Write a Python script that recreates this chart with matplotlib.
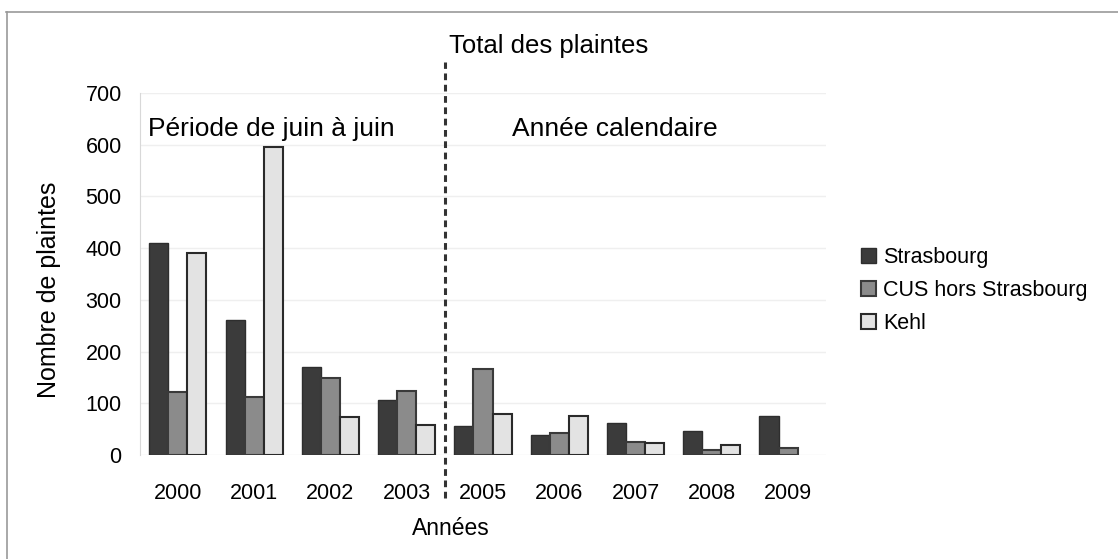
import matplotlib
matplotlib.use("Agg")
import matplotlib.pyplot as plt
from matplotlib.patches import Patch
from matplotlib.lines import Line2D
import numpy as np

years = ["2000", "2001", "2002", "2003", "2005", "2006", "2007", "2008", "2009"]
strasbourg = [410, 261, 171, 107, 57, 38, 62, 46, 76]
cus = [122, 113, 148, 124, 167, 43, 26, 10, 13]
kehl = [390, 596, 74, 58, 79, 75, 24, 20, 0]
series_names = ["Strasbourg", "CUS hors Strasbourg", "Kehl"]
yticks = [0, 100, 200, 300, 400, 500, 600, 700]

plt.rcParams['font.family'] = ['Liberation Sans', 'DejaVu Sans']

fig = plt.figure(figsize=(11.18, 5.59), dpi=100)
ax = fig.add_axes([0.125, 0.186, 0.614, 0.648])

x = np.arange(len(years))
w = 0.25
ax.bar(x - w, strasbourg, w, color='#3b3b3b', edgecolor='#2e2e2e', linewidth=1.0, zorder=3)
ax.bar(x, cus, w, color='#8b8b8b', edgecolor='#3a3a3a', linewidth=1.5, zorder=3)
ax.bar(x + w, [v if v > 0 else np.nan for v in kehl], w, color='#e3e3e3', edgecolor='#2a2a2a', linewidth=1.5, zorder=3)

ax.set_xlim(-0.5, len(years) - 0.5)
ax.set_ylim(0, 700)
ax.set_yticks(yticks)
ax.set_xticks(x)
ax.set_xticklabels(years)
ax.tick_params(axis='both', labelsize=15.5, length=0)
ax.tick_params(axis='x', pad=20)
ax.tick_params(axis='y', pad=13)
ax.yaxis.grid(True, color='#efefef', linewidth=1.0, zorder=0)
for s in ['top', 'right', 'bottom']:
    ax.spines[s].set_visible(False)
ax.spines['left'].set_color('#d8d8d8')

ax.set_ylabel("Nombre de plaintes", fontsize=18)
ax.yaxis.label.set_va('center')
ax.yaxis.set_label_coords(-0.1327, 0.456)
ax.set_xlabel("Années", fontsize=16.5)
ax.xaxis.label.set_va('center')
ax.xaxis.set_label_coords(0.453, -0.2017)

ax.plot([3.5, 3.5], [-0.119, 1.085], transform=ax.get_xaxis_transform(),
        color='#333333', linewidth=2.2, linestyle=(0, (2.2, 1.5)), clip_on=False, zorder=4)

ax.text(0.012, 0.9, "Période de juin à juin", transform=ax.transAxes, fontsize=19,
        ha='left', va='center')
ax.text(0.543, 0.9, "Année calendaire", transform=ax.transAxes, fontsize=19,
        ha='left', va='center')

fig.text(0.4016, 0.918, "Total des plaintes", fontsize=18.5, ha='left', va='center')

handles = [Patch(facecolor='#3b3b3b', edgecolor='#2e2e2e', linewidth=1.0),
           Patch(facecolor='#8b8b8b', edgecolor='#3a3a3a', linewidth=1.5),
           Patch(facecolor='#e3e3e3', edgecolor='#2a2a2a', linewidth=1.5)]
fig.legend(handles, series_names, loc='center left', bbox_to_anchor=(0.753, 0.48),
           frameon=False, fontsize=15.5, handlelength=0.7, handleheight=0.7,
           handletextpad=0.3, labelspacing=0.55)

# figure border (top and left)
fig.add_artist(Line2D([0.005, 1.0], [0.979, 0.979], transform=fig.transFigure, color='#9a9a9a', linewidth=1.2))
fig.add_artist(Line2D([0.006, 0.006], [0.0, 0.979], transform=fig.transFigure, color='#9a9a9a', linewidth=1.2))

fig.savefig("out.png", dpi=100)
